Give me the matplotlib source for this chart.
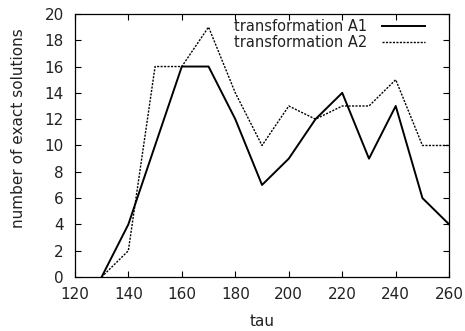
import matplotlib
matplotlib.use("Agg")
import matplotlib.pyplot as plt
import numpy as np

plt.rcParams["font.family"] = ["DejaVu Sans"]

tau = [130, 140, 150, 160, 170, 180, 190, 200, 210, 220, 230, 240, 250, 260]
a1 = [0, 4, 10, 16, 16, 12, 7, 9, 12, 14, 9, 13, 6, 4]
a2 = [0, 2, 16, 16, 19, 14, 10, 13, 12, 13, 13, 15, 10, 10]

fig = plt.figure(figsize=(4.65, 3.31), dpi=100)
ax = fig.add_axes([0.161, 0.163, 0.805, 0.795])

ax.plot(tau, a1, color="black", lw=1.4, label="transformation A1")
ax.plot(tau, a2, color="black", lw=1.0, linestyle=(0, (1.5, 1)), label="transformation A2")

ax.set_xlim(120, 260)
ax.set_ylim(0, 20)
ax.set_xticks(np.arange(120, 261, 20))
ax.set_yticks(np.arange(0, 21, 2))
ax.tick_params(direction="in", top=True, right=True, length=4, labelsize=11,
               labelcolor="#222222")
ax.tick_params(axis="x", pad=7)
ax.tick_params(axis="y", pad=8)
for s in ax.spines.values():
    s.set_linewidth(0.9)

ax.set_xlabel("tau", fontsize=11, labelpad=9, color="#222222")
ax.set_ylabel("number of exact solutions", fontsize=11, color="#222222")
ax.yaxis.set_label_coords(-0.13, 0.567)

leg = ax.legend(loc="upper right", frameon=False, markerfirst=False, fontsize=10.5,
                handlelength=3.0, handletextpad=1.0, labelspacing=0.1,
                borderaxespad=0.2, bbox_to_anchor=(0.96, 1.015))
for t in leg.get_texts():
    t.set_color("#222222")

fig.savefig("out.png", dpi=100)
